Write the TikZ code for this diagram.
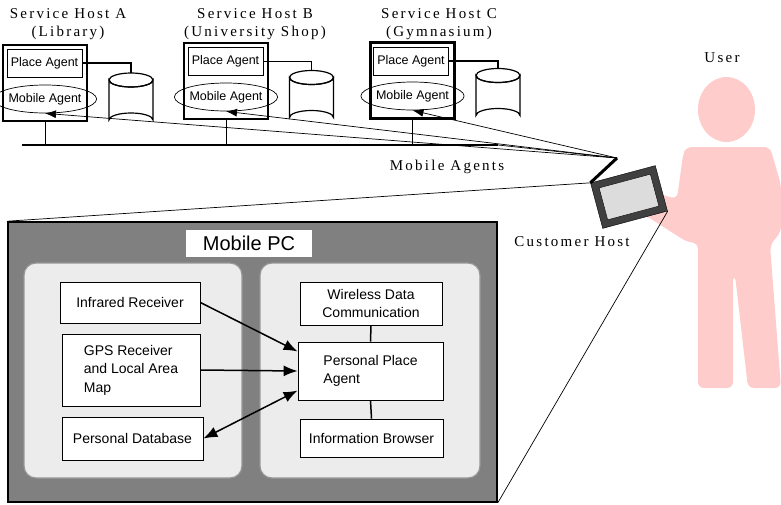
\documentclass[tikz,border=0pt]{standalone}
\usepackage{fontspec}
\setmainfont{Liberation Serif}
\setsansfont{Liberation Sans}
\newfontfamily\spacedserif[LetterSpace=15]{Liberation Serif}
\usetikzlibrary{shapes.geometric,arrows.meta}
\definecolor{userpink}{RGB}{255,204,204}
\definecolor{hostgray}{RGB}{64,64,64}
\definecolor{screengray}{RGB}{220,220,220}
\definecolor{pcgray}{RGB}{128,128,128}
\definecolor{panelgray}{RGB}{236,236,236}
\definecolor{paneledge}{RGB}{150,150,150}

\begin{document}
\begin{tikzpicture}[x=1pt,y=-1pt,
    lbl/.style={font=\fontsize{15}{18}\selectfont\spacedserif, align=center, inner sep=0pt},
    host/.style={draw, line width=2.3pt, minimum width=84pt, minimum height=76pt, inner sep=0pt},
    place/.style={draw, line width=0.7pt, minimum width=75pt, minimum height=28pt, inner sep=0pt,
      font=\fontsize{12.5}{14}\selectfont\sffamily},
    mob/.style={draw, ellipse, line width=0.7pt, minimum width=80pt, minimum height=28pt, inner sep=0pt,
      font=\fontsize{12.5}{14}\selectfont\sffamily},
    dbcyl/.pic={
      \draw[line width=1.2pt, fill=white] (-22,-20) -- (-22,20)
        arc[start angle=180, end angle=360, x radius=22, y radius=7] -- (22,-20)
        arc[start angle=0, end angle=180, x radius=22, y radius=7] -- cycle;
      \draw[line width=1.2pt] (0,-20) ellipse (22 and 7);
      \coordinate (-top) at (0,-27);
    },
    agentarrow/.style={line width=0.7pt, -{Latex[length=11pt,width=8pt]}},
    panel/.style={draw=paneledge, line width=1.2pt, fill=panelgray, rounded corners=12pt},
    unit/.style={draw, line width=0.8pt, fill=white, inner sep=0pt, align=center,
      font=\fontsize{14}{18.5}\selectfont\sffamily},
    flow/.style={line width=1.5pt, -{Latex[length=14pt,width=11pt]}}]
  \useasboundingbox (0,0) rectangle (781,504);

  % the user
  \fill[userpink] (726.5,109.5) ellipse (28.5 and 32.5);
  \fill[userpink, rounded corners=6pt] (683,155) -- (686,147) -- (770,147) -- (781,185)
    -- (781,232) -- (770,245) -- (781,388) -- (748,388) -- (735,275) -- (733,275)
    -- (733,388) -- (698,388) -- (698,243) -- (687,242) -- (640,212) -- (645,190)
    -- (677,199) -- cycle;
  \node[lbl] (userlbl) at (722,58) {User};

  % service hosts on the campus network
  \node[lbl] (titleA) at (68,24) {Service Host A\\(Library)};
  \node[lbl] (titleB) at (255,24) {Service Host B\\(University Shop)};
  \node[lbl] (titleC) at (439,24) {Service Host C\\(Gymnasium)};

  \node[host] (hostA) at (45,83) {};
  \node[place] (placeA) at (44.5,63) {Place Agent};
  \node[mob] (mobA) at (45,99) {Mobile Agent};
  \pic (dbA) at (131,100) {dbcyl};

  \node[host] (hostB) at (226,81) {};
  \node[place] (placeB) at (225.5,61.5) {Place Agent};
  \node[mob] (mobB) at (226,97) {Mobile Agent};
  \pic (dbB) at (311.5,97.5) {dbcyl};

  \node[host] (hostC) at (412.5,80.5) {};
  \node[place] (placeC) at (411,61) {Place Agent};
  \node[mob] (mobC) at (412.5,96) {Mobile Agent};
  \pic (dbC) at (498,95.5) {dbcyl};

  \draw[line width=1.2pt] (placeA.east) -| (dbA-top);
  \draw[line width=1.2pt] (placeB.east) -| (dbB-top);
  \draw[line width=1.2pt] (placeC.east) -| (dbC-top);

  \coordinate (busL) at (22,145);
  \coordinate (busR) at (498,145);
  \draw[line width=1.8pt] (busL) -- (busR);
  \draw[line width=0.8pt] (hostA.south) -- (hostA.south |- busL);
  \draw[line width=0.8pt] (hostB.south) -- (hostB.south |- busL);
  \draw[line width=0.8pt] (hostC.south) -- (hostC.south |- busL);

  % customer host and the agents it sends out
  \node[draw, fill=hostgray, rotate=15, minimum width=67pt, minimum height=47pt] (custhost) at (629,197) {};
  \node[draw, fill=screengray, rotate=15, minimum width=53pt, minimum height=33pt] (screen) at (629,197) {};
  \coordinate (apex) at (617,158);
  \draw[line width=3pt] (custhost.north west) -- (apex);
  \draw[agentarrow] (apex) -- (mobA.south);
  \draw[agentarrow] (apex) -- (mobB.south);
  \draw[agentarrow] (apex) -- (mobC.south);
  \draw[line width=0.7pt] (apex) -- (busR);
  \node[lbl] (agentslbl) at (447,167) {Mobile Agents};
  \node[lbl] (custlbl) at (572,242) {Customer Host};

  % inside the mobile PC
  \node[draw, line width=1.6pt, fill=pcgray, minimum width=489pt, minimum height=280pt] (pc) at (252.5,362) {};
  \draw[line width=0.7pt] (custhost.north west) -- (pc.north west);
  \draw[line width=0.7pt] (custhost.south east) -- (pc.south east);
  \node[fill=white, minimum width=126pt, minimum height=27pt, inner sep=0pt,
    font=\fontsize{20}{24}\selectfont\sffamily] (pctitle) at (249,243.5) {Mobile PC};

  \node[panel, minimum width=218pt, minimum height=215pt] (sensors) at (133,370.5) {};
  \node[panel, minimum width=220pt, minimum height=215pt] (agentside) at (370,370.5) {};

  \node[unit, minimum width=140pt, minimum height=41pt] (ir) at (130,302.5) {Infrared Receiver};
  \node[unit, minimum width=138pt, minimum height=72pt, align=left] (gps) at (131,370) {GPS Receiver\\and Local Area\\Map};
  \node[unit, minimum width=141pt, minimum height=43pt] (pdb) at (132.5,438.5) {Personal Database};

  \node[unit, minimum width=142pt, minimum height=43pt] (wdc) at (371,303.5) {Wireless Data\\Communication};
  \node[unit, minimum width=145pt, minimum height=58pt, align=left] (ppa) at (370.5,371) {Personal Place\\Agent};
  \node[unit, minimum width=143pt, minimum height=38pt] (ib) at (371.5,438) {Information Browser};

  \draw[line width=1.5pt] (wdc.south) -- (ppa.north);
  \draw[line width=1.5pt] (ppa.south) -- (ib.north);
  \draw[flow] (ir.east) -- (ppa.165);
  \draw[flow] (gps.east) -- (ppa.west);
  \draw[flow, {Latex[length=14pt,width=11pt]}-{Latex[length=14pt,width=11pt]}] (ppa.195) -- (pdb.east);
\end{tikzpicture}
\end{document}
